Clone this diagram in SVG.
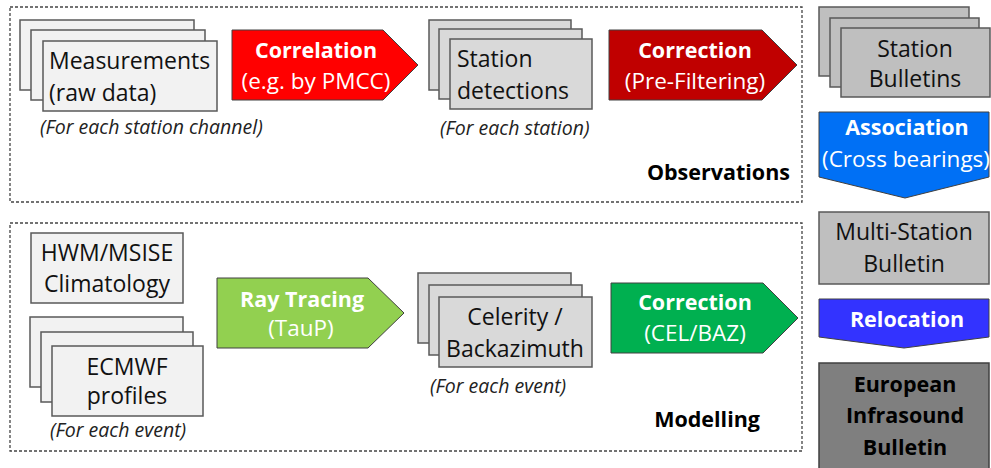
<svg xmlns="http://www.w3.org/2000/svg" width="991" height="468" viewBox="0 0 991 468">
<style>
text{font-family:"Open Sans","Noto Sans","Liberation Sans",sans-serif;}
.t{font-size:23px;fill:#111;}
.tc{font-size:23px;fill:#111;text-anchor:middle;}
.b{font-size:21.5px;font-weight:bold;fill:#fff;text-anchor:middle;}
.w{font-size:22.5px;fill:#fff;text-anchor:middle;}
.lbl{font-size:21.5px;font-weight:bold;fill:#000;text-anchor:end;}
.it{font-size:19.5px;font-style:italic;fill:#222;}
.frame{fill:none;stroke:#444;stroke-width:1.3;stroke-dasharray:3 2;}
.lt{fill:#f2f2f2;stroke:#595959;stroke-width:1.5;}
.md{fill:#d9d9d9;stroke:#595959;stroke-width:1.5;}
.dk{fill:#bfbfbf;stroke:#595959;stroke-width:1.5;}
.xd{fill:#7f7f7f;stroke:#404040;stroke-width:1.5;}
.ar{stroke:#404040;stroke-width:1;}
.eb{font-size:21.5px;font-weight:bold;fill:#000;text-anchor:middle;}
</style>

<g id="observations-frame">
<rect class="frame" x="10" y="7" width="792" height="195"/>
<text class="lbl" x="790" y="180">Observations</text>
</g>
<g id="modelling-frame">
<rect class="frame" x="10" y="223" width="792" height="228"/>
<text class="lbl" x="760" y="427">Modelling</text>
</g>

<g id="measurements">
<rect class="lt" x="20" y="20" width="174" height="70"/>
<rect class="lt" x="31" y="30" width="174" height="70"/>
<rect class="lt" x="43" y="41" width="174" height="70"/>
<text class="t" x="49" y="69">Measurements</text>
<text class="t" x="49" y="101">(raw data)</text>
<text class="it" x="40" y="134">(For each station channel)</text>
</g>

<g id="correlation">
<polygon class="ar" fill="#ff0000" points="232,30 383,30 418,65 383,100 232,100"/>
<text class="b" x="316" y="58">Correlation</text>
<text class="w" x="316" y="89">(e.g. by PMCC)</text>
</g>

<g id="station-detections">
<rect class="md" x="429" y="20" width="142" height="70"/>
<rect class="md" x="439" y="29" width="143" height="70"/>
<rect class="md" x="450" y="39" width="142" height="70"/>
<text class="t" x="457" y="67">Station</text>
<text class="t" x="457" y="99">detections</text>
<text class="it" x="440" y="135">(For each station)</text>
</g>

<g id="correction-prefiltering">
<polygon class="ar" fill="#c00000" points="609,30 762,30 797,65 762,100 609,100"/>
<text class="b" x="695" y="58">Correction</text>
<text class="w" x="695" y="89">(Pre-Filtering)</text>
</g>

<g id="station-bulletins">
<rect class="dk" x="819" y="7" width="150" height="69"/>
<rect class="dk" x="830" y="18" width="149" height="69"/>
<rect class="dk" x="841" y="28" width="149" height="69"/>
<text class="tc" x="915" y="57">Station</text>
<text class="tc" x="915" y="87">Bulletins</text>
</g>

<g id="association">
<polygon class="ar" fill="#0070f5" points="819,112 989,112 989,177 905,198 819,177"/>
<text class="b" x="907" y="135">Association</text>
<text class="w" x="906" y="167">(Cross bearings)</text>
</g>

<g id="multi-station-bulletin">
<rect class="dk" x="819" y="212" width="170" height="72"/>
<text class="tc" x="904" y="240">Multi-Station</text>
<text class="tc" x="904" y="272">Bulletin</text>
</g>

<g id="relocation">
<polygon class="ar" fill="#3333ff" points="819,299 989,299 989,337 904,348 819,337"/>
<text class="b" x="907" y="327">Relocation</text>
</g>

<g id="european-infrasound-bulletin">
<rect class="xd" x="819" y="363" width="170" height="110"/>
<text class="eb" x="905" y="392">European</text>
<text class="eb" x="905" y="423">Infrasound</text>
<text class="eb" x="905" y="455">Bulletin</text>
</g>

<g id="hwm-msise">
<rect class="lt" x="31" y="233" width="152" height="70"/>
<text class="tc" x="107" y="261">HWM/MSISE</text>
<text class="tc" x="107" y="292">Climatology</text>
</g>

<g id="ecmwf-profiles">
<rect class="lt" x="30" y="317" width="153" height="70"/>
<rect class="lt" x="41" y="332" width="152" height="70"/>
<rect class="lt" x="52" y="346" width="151" height="70"/>
<text class="tc" x="127" y="375">ECMWF</text>
<text class="tc" x="127" y="404">profiles</text>
<text class="it" x="50" y="437">(For each event)</text>
</g>

<g id="ray-tracing">
<polygon class="ar" fill="#92d050" points="217,278 368,278 404,313 368,348 217,348"/>
<text class="b" x="302" y="307">Ray Tracing</text>
<text class="w" x="301" y="336">(TauP)</text>
</g>

<g id="celerity-backazimuth">
<rect class="md" x="418" y="273" width="153" height="70"/>
<rect class="md" x="429" y="285" width="153" height="70"/>
<rect class="md" x="439" y="297" width="153" height="70"/>
<text class="tc" x="515" y="325">Celerity /</text>
<text class="tc" x="515" y="357">Backazimuth</text>
<text class="it" x="430" y="393">(For each event)</text>
</g>

<g id="correction-cel-baz">
<polygon class="ar" fill="#00b050" points="611,283 763,283 798,318 763,353 611,353"/>
<text class="b" x="695" y="310">Correction</text>
<text class="w" x="695" y="341">(CEL/BAZ)</text>
</g>

<g id="connectors"></g>
</svg>
